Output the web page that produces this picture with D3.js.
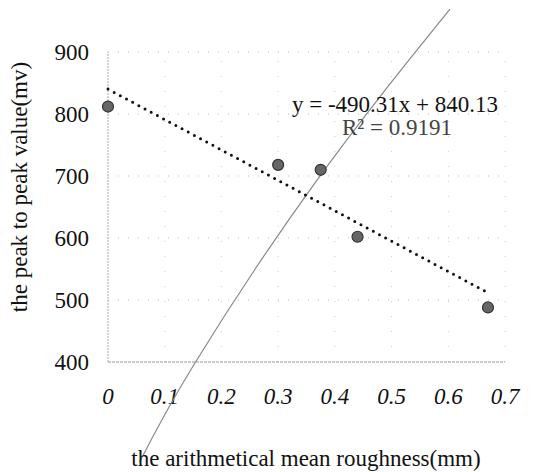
<!DOCTYPE html>
<html>
<head>
<meta charset="utf-8">
<script src="https://cdn.jsdelivr.net/npm/d3@7"></script>
<style>
  body { margin: 0; background: #fff; }
</style>
</head>
<body>
<div id="container"></div>
<script>
// measured points
var roughness = [0, 0.30, 0.375, 0.44, 0.67]
var peakValue = [812, 718, 710, 602, 488]

// the grey curve crossing the chart
var curveX = [0.056, 0.153, 0.365, 0.603]
var curveY = [239, 398, 689, 969]

var xTicks = [0, 0.1, 0.2, 0.3, 0.4, 0.5, 0.6, 0.7]
var yTicks = [400, 500, 600, 700, 800, 900]

var slope = -490.31, intercept = 840.13
var trendRange = [0, 0.67]

var serif = "'Liberation Serif', 'Times New Roman', serif"

var svg = d3.select("#container").append("svg")
    .attr("width", 533)
    .attr("height", 472)

var x = d3.scaleLinear().domain([0, 0.7]).range([108, 505])
var y = d3.scaleLinear().domain([400, 900]).range([362, 52])

// grid
svg.append("g").selectAll("line")
  .data(yTicks.slice(1))
  .join("line")
    .attr("x1", x(0)).attr("x2", x(0.7))
    .attr("y1", d => y(d)).attr("y2", d => y(d))
    .attr("stroke", "#bbb")
    .attr("stroke-width", 1)
    .attr("stroke-dasharray", "1,9")

svg.append("g").selectAll("line")
  .data(xTicks.slice(1))
  .join("line")
    .attr("x1", d => x(d)).attr("x2", d => x(d))
    .attr("y1", y(400)).attr("y2", y(900))
    .attr("stroke", "#ccc")
    .attr("stroke-width", 1)
    .attr("stroke-dasharray", "1,14")

// axis lines
svg.append("line")
  .attr("x1", x(0)).attr("x2", x(0))
  .attr("y1", y(400)).attr("y2", y(900))
  .attr("stroke", "#aaa")
  .attr("stroke-dasharray", "2,1")

svg.append("line")
  .attr("x1", x(0)).attr("x2", x(0.7))
  .attr("y1", y(400)).attr("y2", y(400))
  .attr("stroke", "#999")
  .attr("stroke-dasharray", "3,1")

// tick labels
svg.append("g").selectAll("text")
  .data(yTicks)
  .join("text")
    .attr("x", 89)
    .attr("y", d => y(d) + 8)
    .attr("text-anchor", "end")
    .attr("font-family", serif)
    .attr("font-size", "23px")
    .attr("fill", "#111")
    .text(d => d)

svg.append("g").selectAll("text")
  .data(xTicks)
  .join("text")
    .attr("x", d => x(d))
    .attr("y", 404)
    .attr("text-anchor", "middle")
    .attr("font-family", serif)
    .attr("font-size", "23px")
    .attr("font-style", "italic")
    .attr("fill", "#111")
    .text(d => d)

// grey curve
var curve = d3.line()
  .x(d => x(d[0]))
  .y(d => y(d[1]))
  .curve(d3.curveNatural)

svg.append("path")
  .datum(d3.zip(curveX, curveY))
  .attr("d", curve)
  .attr("fill", "none")
  .attr("stroke", "#888")
  .attr("stroke-width", 1.2)

// dotted trendline
svg.append("line")
  .attr("x1", x(trendRange[0]))
  .attr("y1", y(slope * trendRange[0] + intercept))
  .attr("x2", x(trendRange[1]))
  .attr("y2", y(slope * trendRange[1] + intercept))
  .attr("stroke", "#111")
  .attr("stroke-width", 3)
  .attr("stroke-linecap", "round")
  .attr("stroke-dasharray", "0,7")

// points
svg.append("g").selectAll("circle")
  .data(d3.zip(roughness, peakValue))
  .join("circle")
    .attr("cx", d => x(d[0]))
    .attr("cy", d => y(d[1]))
    .attr("r", 5.5)
    .attr("fill", "#666")
    .attr("stroke", "#333")
    .attr("stroke-width", 1.2)

// equation
svg.append("text")
  .attr("x", 395)
  .attr("y", 112)
  .attr("text-anchor", "middle")
  .attr("font-family", serif)
  .attr("font-size", "23px")
  .attr("fill", "#111")
  .text("y = -490.31x + 840.13")

svg.append("text")
  .attr("x", 397)
  .attr("y", 135)
  .attr("text-anchor", "middle")
  .attr("font-family", serif)
  .attr("font-size", "23px")
  .attr("fill", "#444")
  .text("R² = 0.9191")

// axis titles
svg.append("text")
  .attr("transform", "translate(27,187) rotate(-90)")
  .attr("text-anchor", "middle")
  .attr("font-family", serif)
  .attr("font-size", "23px")
  .attr("fill", "#111")
  .text("the peak to peak value(mv)")

svg.append("text")
  .attr("x", 306)
  .attr("y", 466)
  .attr("text-anchor", "middle")
  .attr("font-family", serif)
  .attr("font-size", "23px")
  .attr("fill", "#111")
  .text("the arithmetical mean roughness(mm)")
</script>
</body>
</html>
